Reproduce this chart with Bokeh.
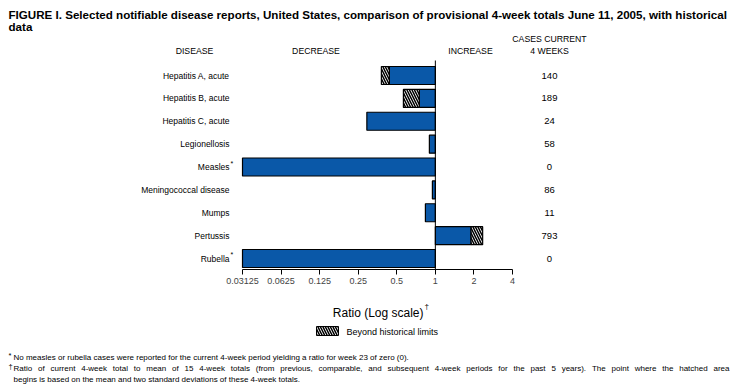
import math
from bokeh.plotting import figure
from bokeh.models import (Range1d, LogAxis, LinearScale, FixedTicker,
                          CustomJSTickFormatter)
from bokeh.core.properties import value
from bokeh.embed import file_html
from bokeh.resources import INLINE

# ---------------- data ----------------
diseases = ["Hepatitis A, acute", "Hepatitis B, acute", "Hepatitis C, acute",
            "Legionellosis", "Measles", "Meningococcal disease", "Mumps",
            "Pertussis", "Rubella"]
disease_marks = ["", "", "", "", "*", "", "", "", "*"]
ratios = [0.379, 0.563, 0.292, 0.898, 0.0, 0.948, 0.836, 2.34, 0.0]
hist_limits = [0.438, 0.75, None, None, None, None, None, 1.90, None]
cases = [140, 189, 24, 58, 0, 86, 11, 793, 0]
tick_values = [0.03125, 0.0625, 0.125, 0.25, 0.5, 1, 2, 4]

title_lines = ["FIGURE I. Selected notifiable disease reports, United States, comparison of provisional 4-week totals June 11, 2005, with historical",
               "data"]
footnotes = [("*", "No measles or rubella cases were reported for the current 4-week period yielding a ratio for week 23 of zero (0).", False),
             ("\u2020", "Ratio of current 4-week total to mean of 15 4-week totals (from previous, comparable, and subsequent 4-week periods for the past 5 years). The point where the hatched area", True),
             ("", "begins is based on the mean and two standard deviations of these 4-week totals.", False)]

# ---------------- layout ----------------
W, H = 735, 390
FONT = "Liberation Sans"
BLUE = "#0a58a8"
AX_MIN, AX_MAX = tick_values[0], tick_values[-1]
AX_X0, AX_X1 = 242, 512
ppo = (AX_X1 - AX_X0) / math.log2(AX_MAX / AX_MIN)
x_start = AX_MIN * 2 ** (-AX_X0 / ppo)
x_end = AX_MAX * 2 ** ((W - AX_X1) / ppo)
ROW0, STEP, BAR_H = 75.0, 22.875, 18
AXIS_Y = 268.7

p = figure(width=W, height=H, x_axis_type="log", x_axis_location=None,
           y_axis_location=None, x_range=Range1d(x_start, x_end),
           y_range=Range1d(H, 0), output_backend="svg", toolbar_location=None,
           min_border=0, outline_line_color=None)
p.extra_x_ranges = {"px": Range1d(0, W)}
p.extra_x_scales = {"px": LinearScale()}
p.grid.visible = False

ys = [ROW0 + i * STEP for i in range(len(diseases))]

blue_l, blue_r, blue_y = [], [], []
hat_l, hat_r, hat_y = [], [], []
for y, r, lim in zip(ys, ratios, hist_limits):
    r = max(r, AX_MIN)
    if lim is None:
        blue_l.append(min(r, 1)); blue_r.append(max(r, 1)); blue_y.append(y)
    else:
        blue_l.append(min(lim, 1)); blue_r.append(max(lim, 1)); blue_y.append(y)
        hat_l.append(min(r, lim)); hat_r.append(max(r, lim)); hat_y.append(y)

HATCH = dict(fill_color="white", hatch_pattern="\\", hatch_color="black",
             hatch_scale=5, hatch_weight=1.5)
p.hbar(y=blue_y, left=blue_l, right=blue_r, height=BAR_H, fill_color=BLUE,
       line_color="black", line_width=1.2)
p.hbar(y=hat_y, left=hat_l, right=hat_r, height=BAR_H,
       line_color="black", line_width=1.2, **HATCH)
p.segment(x0=[1], x1=[1], y0=[60], y1=[AXIS_Y], line_color="black", line_width=1)

ax = LogAxis(fixed_location=AXIS_Y, bounds=(AX_MIN, AX_MAX),
             ticker=FixedTicker(ticks=tick_values, minor_ticks=[]),
             formatter=CustomJSTickFormatter(code="return tick.toString()"),
             major_tick_out=5, major_tick_in=0, minor_tick_out=0, minor_tick_in=0,
             axis_line_color="black", axis_line_width=1,
             major_tick_line_color="black",
             major_label_text_font=FONT, major_label_text_font_size="9px",
             major_label_standoff=4)
p.add_layout(ax, "below")


def txt(x, y, s, size, align="left", baseline="middle", bold=False):
    if not isinstance(x, list):
        x, y, s = [x], [y], [s]
    p.text(x=x, y=y, text=s, x_range_name="px", text_font=value(FONT),
           text_font_size=f"{size}px", text_align=align, text_baseline=baseline,
           text_font_style="bold" if bold else "normal", text_color="black")


# approximate Arial / Liberation Sans advance widths (per em) for justification
_W = {" ": .278, ",": .278, ".": .278, "-": .333, "(": .333, ")": .333,
      "A": .667, "B": .667, "C": .722, "D": .722, "E": .667, "F": .611,
      "G": .778, "H": .722, "I": .278, "J": .5, "K": .667, "L": .556,
      "M": .833, "N": .722, "O": .778, "P": .667, "Q": .778, "R": .722,
      "S": .667, "T": .611, "U": .722, "V": .667, "W": .944, "X": .667,
      "Y": .667, "Z": .611, "f": .278, "i": .222, "j": .222, "l": .222,
      "r": .333, "t": .278, "c": .5, "k": .5, "s": .5, "v": .5, "x": .5,
      "y": .5, "z": .5, "m": .833, "w": .722}


def text_w(s, size):
    return sum(_W.get(ch, .556) for ch in s) * size


def justified(x0, x1, y, s, size):
    words = s.split(" ")
    total = sum(text_w(w, size) for w in words)
    gap = (x1 - x0 - total) / (len(words) - 1)
    xs, x = [], x0
    for w in words:
        xs.append(x)
        x += text_w(w, size) + gap
    txt(xs, [y] * len(words), words, size)


# title
txt(8, 13.5, title_lines[0], 11.6, bold=True)
txt(8, 25.5, title_lines[1], 11.6, bold=True)
# headers
txt(194, 50, "DISEASE", 8.7, align="center")
txt(315.5, 50, "DECREASE", 8.7, align="center")
txt(470, 50, "INCREASE", 8.7, align="center")
txt(549, 38, "CASES CURRENT", 8.7, align="center")
txt(549, 50, "4 WEEKS", 8.7, align="center")
# row labels
txt([229] * len(diseases), ys, diseases, 8.5, align="right")
mk_y = [y - 4 for y, m in zip(ys, disease_marks) if m]
mk = [m for m in disease_marks if m]
txt([230] * len(mk), mk_y, mk, 7)
txt([549] * len(cases), ys, [str(c) for c in cases], 9.5, align="center")
# axis title
txt(423, 312, "Ratio (Log scale)", 12, align="right")
txt(424, 306, "\u2020", 8)
# legend
p.quad(left=[316], right=[338], top=[326], bottom=[335], x_range_name="px",
       line_color="black", line_width=1, **HATCH)
txt(346, 331, "Beyond historical limits", 9)
# footnotes
fy = [357, 368, 379]
for (m, s, just), y in zip(footnotes, fy):
    if m:
        txt(8, y - 2, m, 7.5)
    if just:
        justified(13, 729, y, s, 8)
    else:
        txt(13, y, s, 8)

open("out.html", "w").write(file_html(p, INLINE))
